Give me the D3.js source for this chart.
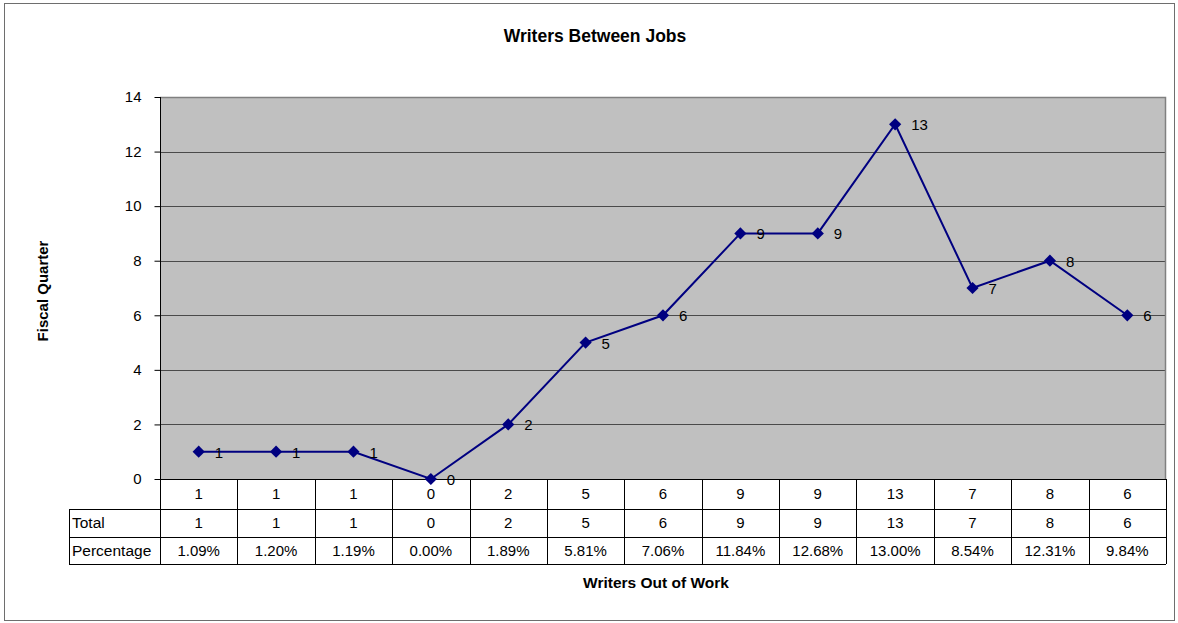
<!DOCTYPE html>
<html>
<head>
<meta charset="utf-8">
<script src="https://cdn.jsdelivr.net/npm/d3@7"></script>
<style>
  body { margin: 0; background: #fff; }
  text { font-family: "Liberation Sans", Arial, sans-serif; fill: #000; }
</style>
</head>
<body>
<div id="chart"></div>
<script>
// values
const categories = ["Q1", "Q2", "Q3", "Q4", "Q5", "Q6", "Q7", "Q8", "Q9", "Q10", "Q11", "Q12", "Q13"]
const totals = [1, 1, 1, 0, 2, 5, 6, 9, 9, 13, 7, 8, 6]
const percentages = ["1.09%", "1.20%", "1.19%", "0.00%", "1.89%", "5.81%", "7.06%", "11.84%", "12.68%", "13.00%", "8.54%", "12.31%", "9.84%"]
const yTicks = [0, 2, 4, 6, 8, 10, 12, 14]

var width = 1178, height = 623
var plot = { left: 160, right: 1166, top: 97, bottom: 479 }
var rowH = [30, 28, 27]
var labelLeft = 69

var svg = d3.select("#chart").append("svg")
  .attr("width", width)
  .attr("height", height)

// outer frame
svg.append("rect")
  .attr("x", 4.5).attr("y", 3.5)
  .attr("width", 1170).attr("height", 617)
  .attr("fill", "#fff")
  .attr("stroke", "#6e6e6e")

var xScale = d3.scaleBand()
  .domain(categories)
  .range([plot.left, plot.right])

var yScale = d3.scaleLinear()
  .domain([0, 14])
  .range([plot.bottom, plot.top])

// plot background
svg.append("rect")
  .attr("x", plot.left).attr("y", plot.top)
  .attr("width", plot.right - plot.left)
  .attr("height", plot.bottom - plot.top)
  .attr("fill", "#c0c0c0")

// gridlines
svg.append("g").selectAll("line")
  .data(yTicks.filter(d => d > 0 && d < 14))
  .enter().append("line")
  .attr("x1", plot.left).attr("x2", plot.right)
  .attr("y1", d => Math.round(yScale(d)) + 0.5)
  .attr("y2", d => Math.round(yScale(d)) + 0.5)
  .attr("stroke", "#4a4a4a")

// top and right border of the plot
svg.append("path")
  .attr("d", `M${plot.left},${plot.top + 0.5}H${plot.right - 0.5}V${plot.bottom}`)
  .attr("fill", "none")
  .attr("stroke", "#808080")
  .attr("stroke-width", 1.5)

// y axis
var yAxis = d3.axisLeft(yScale)
  .tickValues(yTicks)
  .tickSize(6)
  .tickPadding(13)
var yAxisG = svg.append("g")
  .attr("transform", `translate(${plot.left + 0.5},0)`)
  .call(yAxis)
yAxisG.select(".domain").attr("stroke", "#000").attr("d", `M0,${plot.top}V${plot.bottom}`)
yAxisG.selectAll(".tick line").attr("stroke", "#000")
yAxisG.selectAll(".tick text")
  .style("font-size", "15px")
  .style("font-family", "'Liberation Sans', Arial, sans-serif")
  .attr("fill", "#000")

// data table
var tableTop = plot.bottom
var rowY = [tableTop, tableTop + rowH[0], tableTop + rowH[0] + rowH[1], tableTop + rowH[0] + rowH[1] + rowH[2]]
var table = svg.append("g").attr("stroke", "#000").attr("stroke-width", 1)

// horizontal lines
table.append("line")
  .attr("x1", plot.left).attr("x2", plot.right)
  .attr("y1", rowY[0] + 0.5).attr("y2", rowY[0] + 0.5)
;[1, 2, 3].forEach(i => {
  table.append("line")
    .attr("x1", labelLeft).attr("x2", plot.right)
    .attr("y1", rowY[i] + 0.5).attr("y2", rowY[i] + 0.5)
})
// vertical lines
table.append("line")
  .attr("x1", labelLeft + 0.5).attr("x2", labelLeft + 0.5)
  .attr("y1", rowY[1]).attr("y2", rowY[3])
table.selectAll(".vline")
  .data(categories.concat(["end"]))
  .enter().append("line")
  .attr("class", "vline")
  .attr("x1", (d, i) => Math.round(i < categories.length ? xScale(d) : plot.right) + 0.5)
  .attr("x2", (d, i) => Math.round(i < categories.length ? xScale(d) : plot.right) + 0.5)
  .attr("y1", rowY[0]).attr("y2", rowY[3])

var rows = [
  { label: "", values: totals },
  { label: "Total", values: totals },
  { label: "Percentage", values: percentages }
]
rows.forEach((row, r) => {
  var cy = (rowY[r] + rowY[r + 1]) / 2 + 5
  if (row.label) {
    svg.append("text")
      .attr("x", labelLeft + 3).attr("y", cy)
      .style("font-size", "15.5px")
      .text(row.label)
  }
  svg.append("g").selectAll("text")
    .data(row.values)
    .enter().append("text")
    .attr("x", (d, i) => xScale(categories[i]) + xScale.bandwidth() / 2)
    .attr("y", cy)
    .attr("text-anchor", "middle")
    .style("font-size", "15px")
    .text(d => d)
})

// line + markers
var line = d3.line()
  .x((d, i) => xScale(categories[i]) + xScale.bandwidth() / 2)
  .y(d => yScale(d))

svg.append("path")
  .datum(totals)
  .attr("d", line)
  .attr("fill", "none")
  .attr("stroke", "#000080")
  .attr("stroke-width", 2)

svg.append("g").selectAll("path")
  .data(totals)
  .enter().append("path")
  .attr("d", d3.symbol().type(d3.symbolDiamond2).size(95))
  .attr("transform", (d, i) => `translate(${xScale(categories[i]) + xScale.bandwidth() / 2},${yScale(d)})`)
  .attr("fill", "#000080")

// data labels
svg.append("g").selectAll("text")
  .data(totals)
  .enter().append("text")
  .attr("x", (d, i) => xScale(categories[i]) + xScale.bandwidth() / 2 + 16)
  .attr("y", d => yScale(d) + 6)
  .style("font-size", "15px")
  .text(d => d)

// titles
svg.append("text")
  .attr("x", 595).attr("y", 42)
  .attr("text-anchor", "middle")
  .style("font-size", "17.5px")
  .style("font-weight", "bold")
  .text("Writers Between Jobs")

svg.append("text")
  .attr("x", 656).attr("y", 588)
  .attr("text-anchor", "middle")
  .style("font-size", "15.5px")
  .style("font-weight", "bold")
  .text("Writers Out of Work")

svg.append("text")
  .attr("transform", "translate(48,291) rotate(-90)")
  .attr("text-anchor", "middle")
  .style("font-size", "15px")
  .style("font-weight", "bold")
  .text("Fiscal Quarter")
</script>
</body>
</html>
